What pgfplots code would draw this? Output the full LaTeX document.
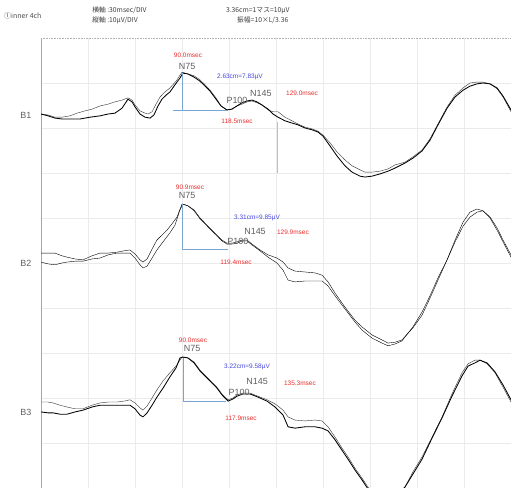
\documentclass[border=0pt]{standalone}
\usepackage{pgfplots}
\pgfplotsset{compat=1.18}
\usepackage{fontspec}
\setmainfont{Liberation Sans}
\newfontfamily\cjk{Noto Sans CJK JP}
\definecolor{trace}{RGB}{50,50,50}
\definecolor{mk}{RGB}{120,165,210}
\definecolor{lbl}{RGB}{235,45,45}
\definecolor{val}{RGB}{70,70,225}
\definecolor{pk}{RGB}{95,95,95}
\begin{document}
\begin{tikzpicture}[x=1bp,y=1bp]
\path[use as bounding box] (0,0) rectangle (511,488);
\begin{axis}[
  at={(41bp,0bp)}, anchor=south west,
  scale only axis, width=470bp, height=450bp,
  xmin=0, xmax=300, ymin=0, ymax=100,
  xtick={30,60,...,270}, ytick={10,20,...,90},
  xticklabels={}, yticklabels={},
  tick style={draw=none},
  grid=major, major grid style={black!8, line width=0.5pt},
  axis line style={draw=none},
  clip mode=individual,
  cycle list={{trace, line width=0.85pt, line join=round, mark=none}},
]
% ---------- frame ----------
\draw[black!35, line width=0.6pt] (axis cs:0,0) -- (axis cs:0,100);
\draw[black!30, line width=0.6pt, densely dotted] (axis cs:0,100) -- (axis cs:300,100);
\draw[black!30, line width=0.6pt, densely dotted] (axis cs:0,0) -- (axis cs:300,0);

% ---------- B1 ----------
\addplot coordinates {(0,83.1)(4.5,82.9)(8.9,82.4)(13.4,82.4)(18.5,82.7)(23.0,83.3)(28.1,83.8)(32.6,84.2)(37.7,84.9)(42.8,85.3)(47.2,85.8)(51.7,86.2)(55.5,86.7)(58.1,86.2)(60.0,85.1)(63.2,83.8)(66.4,83.3)(68.3,83.1)(70.9,83.6)(73.4,85.3)(76.0,86.9)(79.1,88.0)(82.3,88.9)(86.2,90.4)(90.0,92.4)(93.8,92.0)(97.7,91.6)(101.5,90.7)(104.7,89.6)(107.9,88.4)(111.7,86.7)(114.9,84.9)(118.7,84.0)(121.9,84.2)(125.1,84.9)(128.3,85.3)(131.5,85.8)(134.7,86.0)(137.9,85.6)(141.1,85.1)(144.9,84.0)(148.1,83.6)(151.3,83.6)(155.7,82.4)(160.2,81.6)(164.0,80.9)(168.5,80.2)(173.0,79.8)(176.8,79.3)(180.0,78.4)(184.5,76.7)(188.9,74.7)(194.0,72.9)(198.5,71.6)(203.6,70.7)(206.8,70.2)(211.3,70.2)(216.4,70.4)(221.5,70.9)(226.0,71.8)(232.3,72.4)(237.4,73.6)(243.2,75.1)(248.3,77.6)(253.4,80.9)(259.2,84.7)(264.3,87.3)(269.4,88.9)(273.8,90.0)(278.3,90.2)(282.1,90.2)(286.6,89.8)(291.1,88.7)(294.9,86.9)(300,83.6)};
\addplot coordinates {(0,83.1)(4.5,82.7)(8.9,82.2)(13.4,82.0)(18.5,82.0)(24.9,82.0)(31.3,82.4)(37.7,82.7)(42.8,83.1)(47.2,83.3)(51.7,84.4)(55.5,86.4)(58.1,85.8)(60.0,84.7)(63.2,83.1)(66.4,82.4)(69.6,82.2)(72.1,82.9)(74.7,84.9)(77.2,86.4)(79.8,87.3)(82.3,88.0)(85.5,89.6)(88.7,91.1)(90.6,92.2)(93.8,92.0)(97.7,91.3)(101.5,90.4)(104.7,89.3)(107.9,88.2)(111.7,86.4)(114.9,84.9)(118.7,84.0)(121.9,84.2)(125.1,84.9)(128.3,85.6)(131.5,86.0)(134.7,86.2)(137.9,85.8)(141.1,85.1)(144.9,84.2)(148.1,83.1)(151.3,82.4)(155.7,81.6)(160.2,81.1)(164.0,80.7)(168.5,80.0)(173.0,79.6)(176.8,79.1)(180.0,78.2)(184.5,76.0)(188.9,73.8)(194.0,71.6)(198.5,70.2)(203.6,69.3)(206.8,69.1)(211.3,69.3)(216.4,69.8)(221.5,70.4)(226.0,71.1)(232.3,72.2)(237.4,73.3)(243.2,74.9)(248.3,77.3)(253.4,80.7)(259.2,84.4)(264.3,86.9)(269.4,88.4)(273.8,89.3)(278.3,89.8)(282.1,90.0)(286.6,89.8)(291.1,88.9)(294.9,87.1)(300,84.0)};

% ---------- B2 ----------
\addplot coordinates {(0,52.2)(4.5,52.2)(8.9,52.2)(13.4,51.6)(16.6,51.3)(21.7,50.9)(26.8,50.7)(32.6,51.6)(37.7,52.2)(42.8,52.2)(48.5,52.4)(53.0,52.7)(56.8,52.9)(60.0,52.0)(63.2,50.7)(65.1,50.2)(67.7,50.9)(70.9,53.1)(74.0,55.1)(77.2,56.2)(80.4,57.3)(83.6,58.7)(86.8,60.2)(90.0,63.1)(93.8,62.7)(97.7,61.8)(101.5,60.0)(106.6,58.2)(112.3,56.2)(115.5,55.1)(118.7,54.4)(121.9,54.4)(125.1,54.7)(128.3,55.1)(131.5,55.1)(134.7,54.2)(139.8,52.9)(144.9,51.8)(150.6,51.1)(154.5,50.2)(157.7,48.9)(162.1,48.2)(168.5,48.0)(174.9,47.8)(179.4,47.3)(183.2,45.8)(187.7,43.3)(194.0,40.2)(200.4,37.3)(204.9,35.8)(211.3,34.0)(217.7,32.9)(221.5,32.2)(226.0,32.4)(230.4,32.9)(237.4,35.6)(243.2,38.4)(248.3,42.2)(253.4,46.2)(259.2,50.7)(264.3,55.1)(269.4,59.1)(273.8,61.3)(278.3,62.0)(282.1,61.6)(286.6,60.0)(291.1,57.3)(294.9,54.7)(300,51.3)};
\addplot coordinates {(0,50.2)(4.5,49.8)(8.9,49.6)(13.4,50.0)(16.6,50.2)(21.7,50.4)(26.8,50.4)(32.6,50.9)(37.7,51.1)(42.8,51.8)(48.5,52.2)(53.0,52.2)(56.8,52.2)(60.0,51.1)(63.2,49.6)(65.1,48.9)(67.7,49.3)(70.9,51.1)(74.0,52.9)(77.9,54.7)(82.3,56.7)(85.5,58.4)(88.7,61.8)(90.6,63.1)(93.8,62.7)(97.7,61.6)(101.5,59.8)(106.6,58.0)(112.3,56.0)(115.5,54.9)(118.7,54.2)(121.9,54.2)(125.1,54.4)(128.3,54.9)(131.5,54.9)(134.7,54.0)(139.8,52.7)(144.9,51.3)(150.6,50.0)(154.5,48.4)(157.7,46.2)(162.1,45.8)(168.5,46.0)(174.9,46.0)(179.4,46.0)(183.2,44.9)(187.7,42.7)(194.0,39.8)(200.4,36.9)(204.9,35.1)(211.3,33.3)(217.7,32.2)(221.5,31.6)(226.0,32.0)(230.4,32.7)(237.4,35.8)(243.2,39.1)(248.3,42.7)(253.4,46.7)(259.2,50.7)(264.3,54.7)(269.4,58.2)(273.8,60.2)(278.3,61.3)(282.1,61.6)(286.6,60.2)(291.1,57.8)(294.9,55.1)(300,51.8)};

% ---------- B3 ----------
\addplot coordinates {(0,19.1)(4.5,19.1)(7.7,18.9)(12.1,18.4)(16.6,18.0)(21.7,17.6)(26.8,17.6)(32.6,18.4)(37.7,18.9)(42.8,19.1)(48.5,19.1)(53.0,19.3)(56.8,19.6)(60.0,18.9)(63.2,17.8)(65.1,17.3)(67.7,18.2)(70.9,20.0)(74.0,21.8)(77.9,23.8)(82.3,25.6)(86.2,27.1)(90.0,29.1)(93.8,28.9)(97.7,28.0)(101.5,26.2)(106.6,24.4)(112.3,22.4)(115.5,20.9)(119.4,19.6)(122.6,20.0)(125.1,20.7)(128.9,21.1)(133.4,21.1)(138.5,20.4)(144.3,19.6)(149.4,18.7)(154.5,17.3)(157.7,15.8)(162.1,15.1)(168.5,14.9)(174.9,15.1)(179.4,14.9)(183.2,13.6)(187.7,11.3)(192.1,8.9)(196.0,6.9)(200.4,4.4)(204.9,2.2)(208.7,0.2)(213.2,-1.6)(219.6,-2.7)(226.0,-2.0)(232.3,0.2)(237.4,3.6)(243.2,6.9)(249.6,11.3)(256.0,15.8)(262.3,20.9)(268.7,25.6)(272.6,27.6)(277.0,28.4)(280.2,28.4)(284.7,27.6)(289.8,25.6)(294.9,22.4)(300,19.1)};
\addplot coordinates {(0,16.9)(4.5,16.7)(7.7,16.7)(12.1,16.4)(16.6,16.4)(21.7,16.9)(26.8,17.3)(32.6,18.0)(37.7,18.4)(42.8,18.4)(48.5,18.4)(53.0,18.4)(56.8,18.4)(60.0,17.6)(63.2,16.2)(65.1,15.8)(67.7,16.7)(70.9,18.4)(74.0,20.2)(77.9,22.2)(82.3,24.7)(86.2,26.7)(88.7,28.9)(90.6,29.1)(93.8,28.9)(97.7,27.8)(101.5,26.0)(106.6,24.2)(112.3,22.2)(115.5,20.7)(119.4,19.3)(122.6,19.8)(125.1,20.4)(128.9,20.9)(133.4,20.9)(138.5,20.2)(144.3,19.3)(149.4,18.0)(154.5,16.2)(157.7,13.6)(162.1,13.3)(168.5,13.6)(174.9,13.6)(179.4,13.3)(183.2,12.7)(187.7,10.7)(192.1,8.4)(196.0,6.4)(200.4,4.0)(204.9,1.8)(208.7,-0.2)(213.2,-2.0)(219.6,-2.7)(226.0,-2.0)(232.3,0.2)(237.4,3.1)(243.2,6.4)(249.6,11.1)(256.0,15.6)(262.3,20.4)(268.7,24.9)(272.6,27.1)(277.0,27.8)(280.2,28.4)(284.7,27.8)(289.8,25.8)(294.9,22.9)(300,19.6)};

% ---------- markers ----------
\addplot[mk, line width=0.6pt] coordinates {(90.0,92.2)(90.0,84.0)};
\addplot[mk, line width=0.6pt] coordinates {(84.3,84.0)(118.7,84.0)};
\addplot[black!25, line width=0.6pt] coordinates {(150.6,81.3)(150.6,70.0)};
\addplot[mk, line width=0.6pt] coordinates {(90.0,63.1)(90.0,53.1)};
\addplot[mk, line width=0.6pt] coordinates {(90.0,53.1)(119.4,53.1)};
\addplot[mk, line width=0.6pt] coordinates {(90.6,28.9)(90.6,19.3)};
\addplot[mk, line width=0.6pt] coordinates {(90.6,19.3)(117.9,19.3)};

% ---------- labels B1 ----------
\begin{scope}[every node/.style={inner sep=0pt, font=\fontsize{6.5}{7}\selectfont}]
\node[text=lbl] at (axis cs:93.8,96.2) {90.0msec};
\node[text=pk, font=\fontsize{9}{10}\selectfont] at (axis cs:93.2,93.6) {N75};
\node[text=val] at (axis cs:127.0,91.3) {2.63cm=7.83µV};
\node[text=pk, font=\fontsize{9}{10}\selectfont] at (axis cs:125.1,86.2) {P100};
\node[text=pk, font=\fontsize{9}{10}\selectfont] at (axis cs:140.4,87.7) {N145};
\node[text=lbl] at (axis cs:166.6,87.8) {129.0msec};
\node[text=lbl] at (axis cs:125.1,81.4) {118.5msec};
% B2
\node[text=lbl] at (axis cs:95.1,66.9) {90.9msec};
\node[text=pk, font=\fontsize{9}{10}\selectfont] at (axis cs:93.2,65.0) {N75};
\node[text=val] at (axis cs:137.9,60.0) {3.31cm=9.85µV};
\node[text=pk, font=\fontsize{9}{10}\selectfont] at (axis cs:136.6,56.9) {N145};
\node[text=lbl] at (axis cs:160.8,56.9) {129.9msec};
\node[text=pk, font=\fontsize{9}{10}\selectfont] at (axis cs:125.7,54.7) {P100};
\node[text=lbl] at (axis cs:124.5,50.2) {119.4msec};
% B3
\node[text=lbl] at (axis cs:97.0,32.9) {90.0msec};
\node[text=pk, font=\fontsize{9}{10}\selectfont] at (axis cs:96.4,30.9) {N75};
\node[text=val] at (axis cs:131.5,26.9) {3.22cm=9.58µV};
\node[text=pk, font=\fontsize{9}{10}\selectfont] at (axis cs:137.9,23.6) {N145};
\node[text=lbl] at (axis cs:165.3,23.3) {135.3msec};
\node[text=pk, font=\fontsize{9}{10}\selectfont] at (axis cs:126.4,21.3) {P100};
\node[text=lbl] at (axis cs:127.7,15.6) {117.9msec};
% channel names
\node[text=pk, font=\fontsize{9}{10}\selectfont] at (axis cs:-9.6,82.9) {B1};
\node[text=pk, font=\fontsize{9}{10}\selectfont] at (axis cs:-9.6,50.0) {B2};
\node[text=pk, font=\fontsize{9}{10}\selectfont] at (axis cs:-9.6,16.9) {B3};
% header
\node[anchor=west, text=black!70, font=\cjk\fontsize{7}{8}\selectfont] at (axis cs:-23.6,104.9) {①inner 4ch};
\node[anchor=west, text=black!75, font=\cjk\fontsize{6.8}{8}\selectfont] at (axis cs:32.6,106.1) {横軸 :30msec/DIV};
\node[anchor=west, text=black!75, font=\cjk\fontsize{6.8}{8}\selectfont] at (axis cs:32.6,103.9) {縦軸 :10µV/DIV};
\node[anchor=west, text=black!75, font=\cjk\fontsize{6.8}{8}\selectfont] at (axis cs:118.0,106.1) {3.36cm=1マス=10µV};
\node[anchor=west, text=black!75, font=\cjk\fontsize{6.8}{8}\selectfont] at (axis cs:125.1,103.9) {振幅=10×L/3.36};
\end{scope}
\end{axis}
\end{tikzpicture}
\end{document}
